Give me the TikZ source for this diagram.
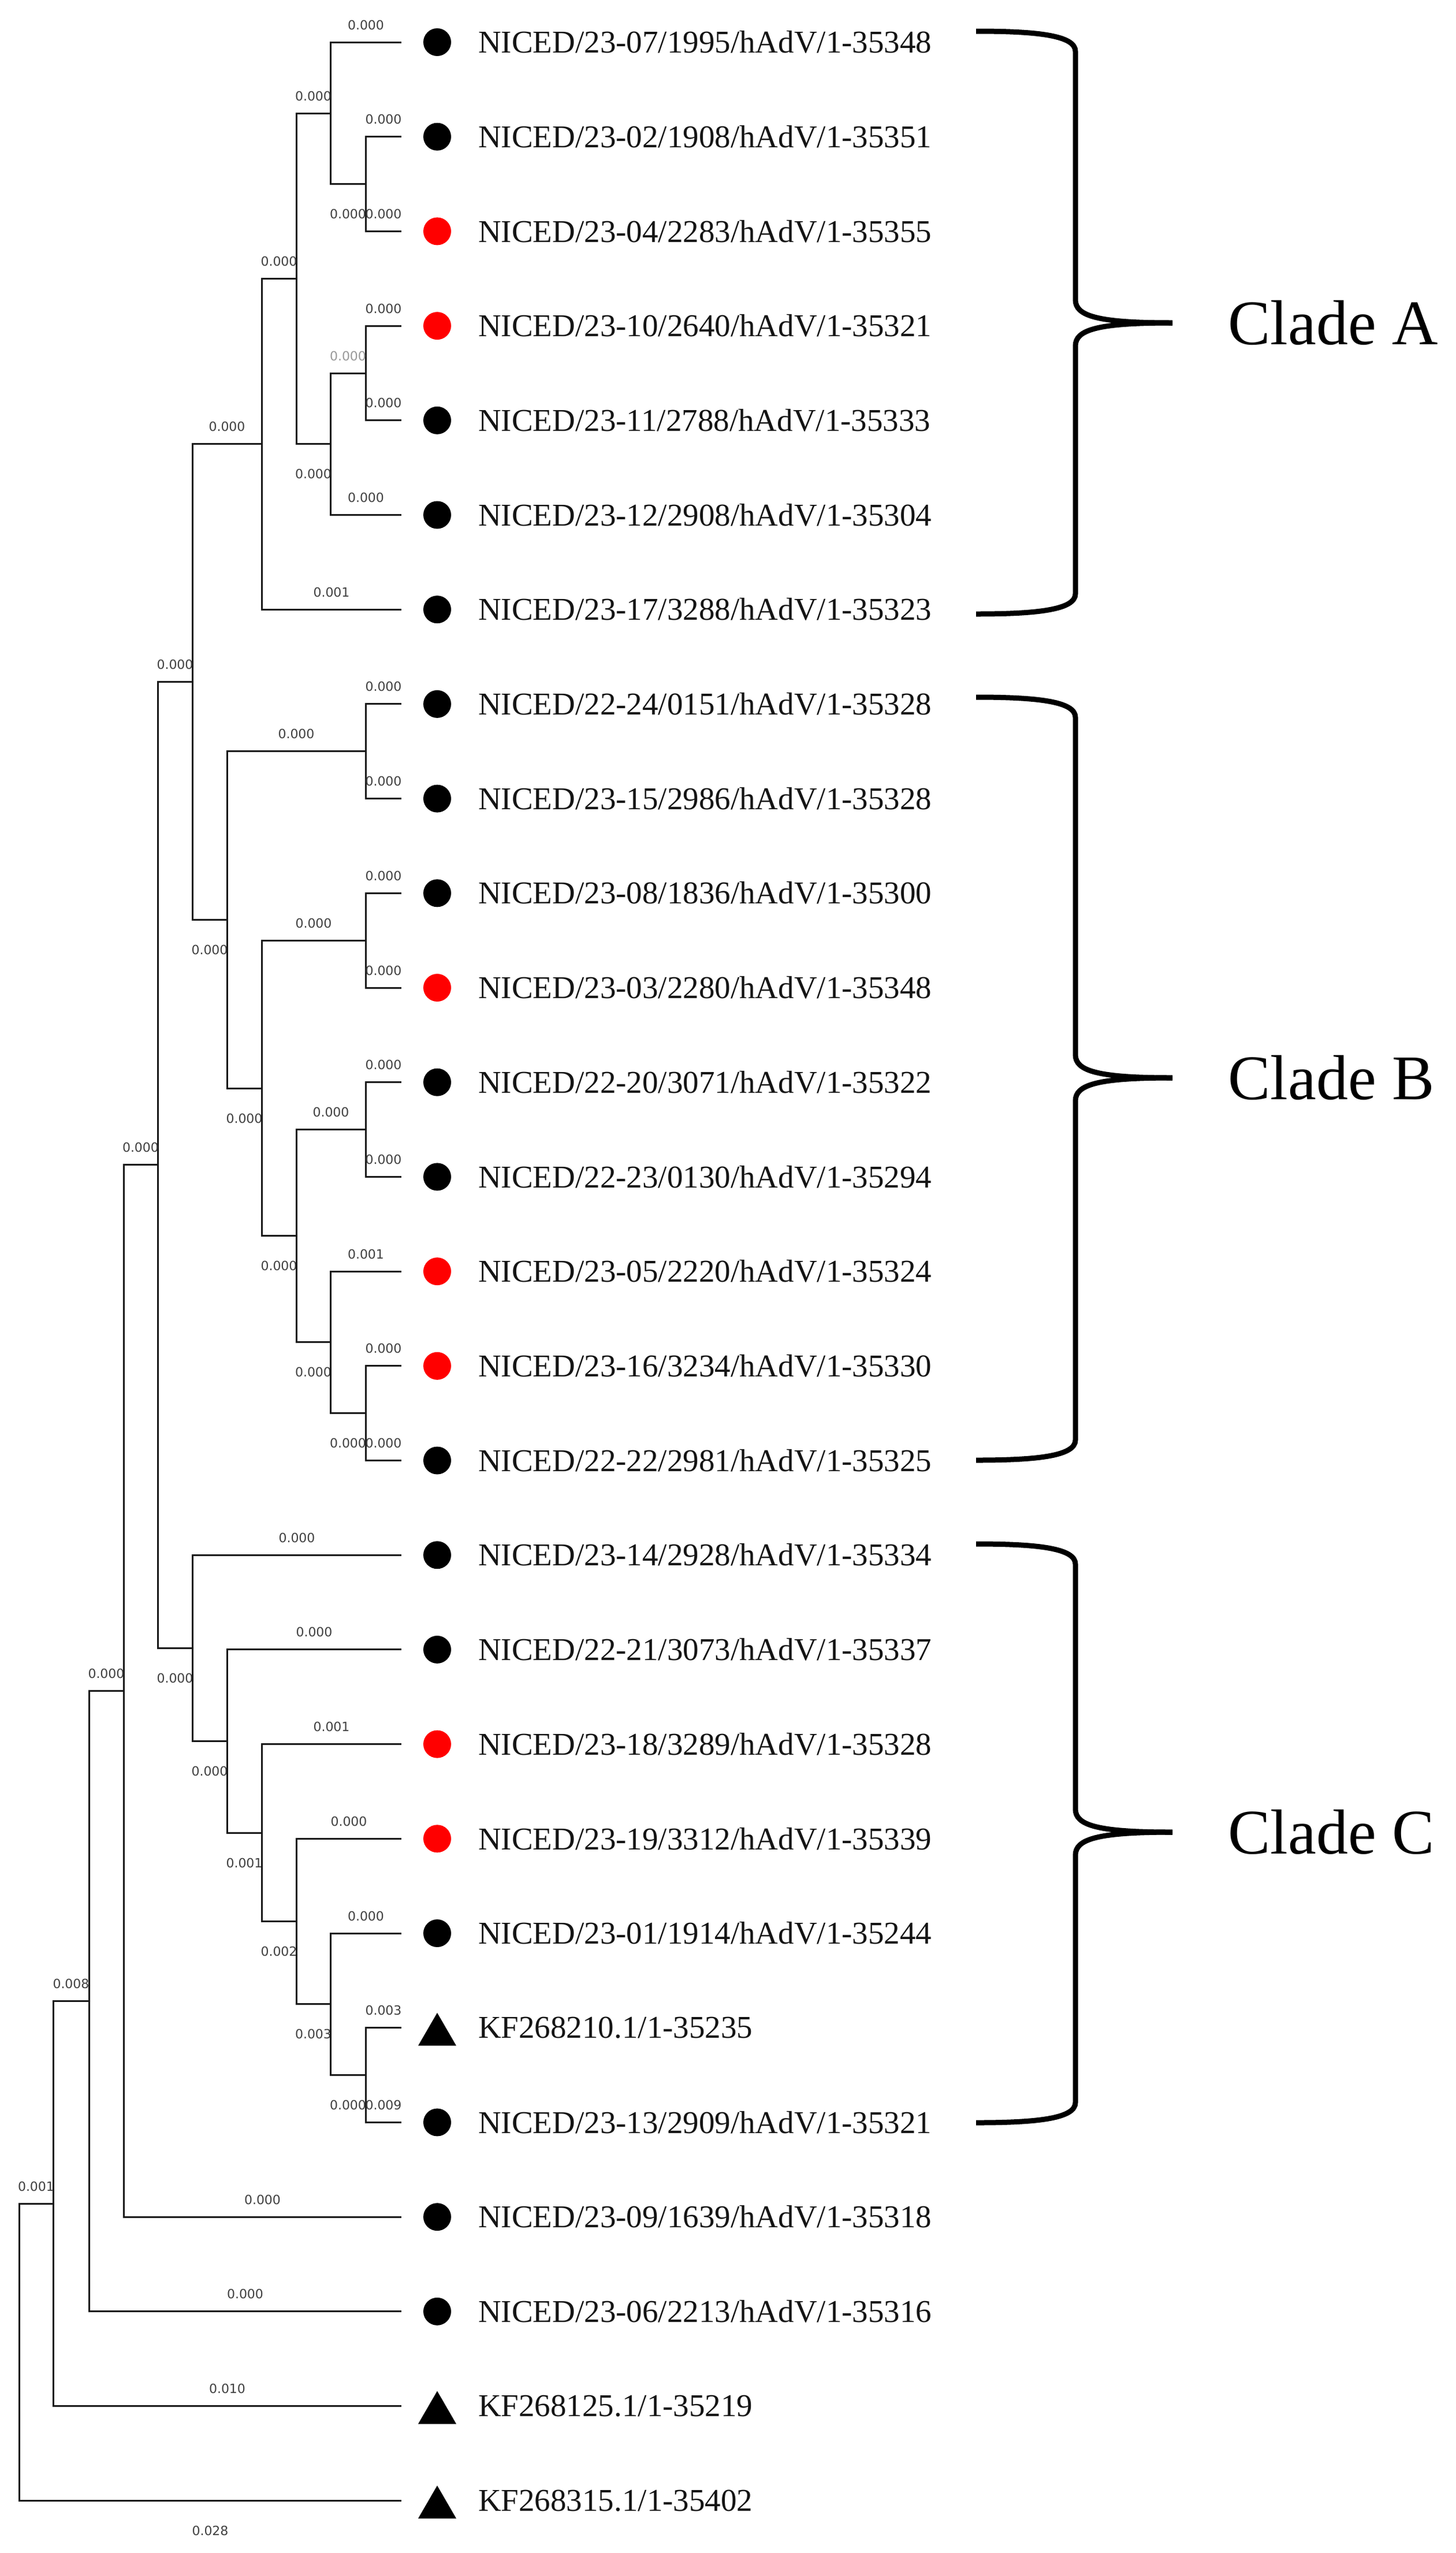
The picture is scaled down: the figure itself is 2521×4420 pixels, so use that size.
\documentclass[tikz,border=0pt]{standalone}
\usepackage{fontspec}
\setmainfont{Liberation Serif}
\newfontfamily\blfont{DejaVu Sans}
\usetikzlibrary{calc}
\begin{document}
\begin{tikzpicture}[x=1pt,y=-1pt,
  br/.style={line width=3pt,black!90},
  bl/.style={font=\blfont\fontsize{22}{22}\selectfont,text=black!75,inner sep=0pt},
  ab/.style={bl,yshift=30pt},
  be/.style={bl,yshift=-52pt},
  lt/.style={font=\fontsize{55}{55}\selectfont,anchor=west,inner sep=0pt,text=black!92},
  dotb/.style={circle,fill=black,minimum size=48pt,inner sep=0pt},
  dotr/.style={circle,fill=red,minimum size=48pt,inner sep=0pt},
  tri/.style={fill=black},
  brace/.style={line width=9pt,black},
  clade/.style={font=\fontsize{110}{110}\selectfont,anchor=west,inner sep=0pt}]
\useasboundingbox (0,0) rectangle (2521,4420);
% leaves
\foreach \k/\y in {1/73,2/236.7,3/400.4,4/564.1,5/727.8,6/891.5,7/1055.2,8/1218.9,9/1382.6,10/1546.3,11/1710,12/1873.7,13/2037.4,14/2201.1,15/2364.8,16/2528.5,17/2692.2,18/2855.9,19/3019.6,20/3183.3,21/3347,22/3510.7,23/3674.4,24/3838.1,25/4001.8,26/4165.5,27/4329.2}{
  \coordinate (L\k) at (695,\y);
  \coordinate (M\k) at (757,\y);
  \coordinate (T\k) at (828,\y);
}
% internal nodes
\coordinate (n633a) at (633,318.5);
\coordinate (n572a) at (572,196);
\coordinate (n633b) at (633,646);
\coordinate (n572b) at (572,768.5);
\coordinate (n513a) at (513,482);
\coordinate (n453a) at (453,768.5);
\coordinate (n633c) at (633,1300.7);
\coordinate (n633d) at (633,1628.2);
\coordinate (n633e) at (633,1955.5);
\coordinate (n633f) at (633,2446.6);
\coordinate (n572d) at (572,2323.9);
\coordinate (n513b) at (513,2139.7);
\coordinate (n453b) at (453,1884);
\coordinate (n393a) at (393,1592.3);
\coordinate (n333a) at (333,1180.4);
\coordinate (n633g) at (633,3592.5);
\coordinate (n572e) at (572,3469.8);
\coordinate (n513c) at (513,3326.5);
\coordinate (n453c) at (453,3173);
\coordinate (n393c) at (393,3014.5);
\coordinate (n333c) at (333,2853.3);
\coordinate (n273) at (273,2016.9);
\coordinate (n214) at (214,2927.5);
\coordinate (n154) at (154,3464.8);
\coordinate (n92) at (92,3815.1);
\coordinate (n33) at (33,4072.2);
% branches: parent/child/label/style
\foreach \p/\c/\l/\s in {
 n572a/L1/0.000/ab, n572a/n633a/0.000/be, n633a/L2/0.000/ab, n633a/L3/0.000/ab,
 n633b/L4/0.000/ab, n633b/L5/0.000/ab, n572b/L6/0.000/ab,
 n513a/n572a/0.000/ab, n513a/n572b/0.000/be, n453a/n513a/0.000/ab, n453a/L7/0.001/ab,
 n333a/n453a/0.000/ab, n333a/n393a/0.000/be, n273/n333a/0.000/ab,
 n393a/n633c/0.000/ab, n393a/n453b/0.000/be, n633c/L8/0.000/ab, n633c/L9/0.000/ab,
 n453b/n633d/0.000/ab, n453b/n513b/0.000/be, n633d/L10/0.000/ab, n633d/L11/0.000/ab,
 n513b/n633e/0.000/ab, n513b/n572d/0.000/be, n633e/L12/0.000/ab, n633e/L13/0.000/ab,
 n572d/L14/0.001/ab, n572d/n633f/0.000/be, n633f/L15/0.000/ab, n633f/L16/0.000/ab,
 n273/n333c/0.000/be, n333c/L17/0.000/ab, n333c/n393c/0.000/be, n393c/L18/0.000/ab,
 n393c/n453c/0.001/be, n453c/L19/0.001/ab, n453c/n513c/0.002/be, n513c/L20/0.000/ab,
 n513c/n572e/0.003/be, n572e/L21/0.000/ab, n572e/n633g/0.000/be, n633g/L22/0.003/ab,
 n633g/L23/0.009/ab, n214/n273/0.000/ab, n214/L24/0.000/ab, n154/n214/0.000/ab,
 n154/L25/0.000/ab, n92/n154/0.008/ab, n92/L26/0.010/ab, n33/n92/0.001/ab, n33/L27/0.028/be}{
  \draw[br] (\p) |- (\c) node[\s,pos=0.75]{\l};
}
\draw[br] (n572b) |- (n633b) node[bl,text=black!40,yshift=30pt,pos=0.75]{0.000};
% markers
\foreach \k in {1,2,5,6,7,8,9,10,12,13,16,17,18,21,23,24,25}{\node[dotb] (D\k) at (M\k){};}
\foreach \k in {3,4,11,14,15,19,20}{\node[dotr] (D\k) at (M\k){};}
\foreach \k in {22,26,27}{\fill[tri] ($(M\k)+(-33,31)$) -- ($(M\k)+(33,31)$) -- ($(M\k)+(0,-26)$) -- cycle;}
% labels
\foreach \k/\t in {1/{NICED/23-07/1995/hAdV/1-35348},2/{NICED/23-02/1908/hAdV/1-35351},3/{NICED/23-04/2283/hAdV/1-35355},4/{NICED/23-10/2640/hAdV/1-35321},5/{NICED/23-11/2788/hAdV/1-35333},6/{NICED/23-12/2908/hAdV/1-35304},7/{NICED/23-17/3288/hAdV/1-35323},8/{NICED/22-24/0151/hAdV/1-35328},9/{NICED/23-15/2986/hAdV/1-35328},10/{NICED/23-08/1836/hAdV/1-35300},11/{NICED/23-03/2280/hAdV/1-35348},12/{NICED/22-20/3071/hAdV/1-35322},13/{NICED/22-23/0130/hAdV/1-35294},14/{NICED/23-05/2220/hAdV/1-35324},15/{NICED/23-16/3234/hAdV/1-35330},16/{NICED/22-22/2981/hAdV/1-35325},17/{NICED/23-14/2928/hAdV/1-35334},18/{NICED/22-21/3073/hAdV/1-35337},19/{NICED/23-18/3289/hAdV/1-35328},20/{NICED/23-19/3312/hAdV/1-35339},21/{NICED/23-01/1914/hAdV/1-35244},22/{KF268210.1/1-35235},23/{NICED/23-13/2909/hAdV/1-35321},24/{NICED/23-09/1639/hAdV/1-35318},25/{NICED/23-06/2213/hAdV/1-35316},26/{KF268125.1/1-35219},27/{KF268315.1/1-35402}}{
  \node[lt] (N\k) at (T\k) {\t};
}
% braces
\foreach \n/\t/\m/\b in {A/54/559/1063, B/1207/1866/2528, C/2673/3172/3675}{
  \coordinate (bt\n) at (1690,\t);
  \coordinate (bm\n) at (2030,\m);
  \coordinate (bb\n) at (1690,\b);
  \draw[brace] (bt\n) .. controls (1800,\t) and (1862,\t+8) .. (1862,\t+35) -- (1862,\m-40)
     .. controls (1862,\m-12) and (1900,\m) .. (bm\n);
  \draw[brace] (bb\n) .. controls (1800,\b) and (1862,\b-8) .. (1862,\b-35) -- (1862,\m+40)
     .. controls (1862,\m+12) and (1900,\m) .. (bm\n);
  \node[clade] (C\n) at (2126,\m) {Clade \n};
}
\end{tikzpicture}
\end{document}
